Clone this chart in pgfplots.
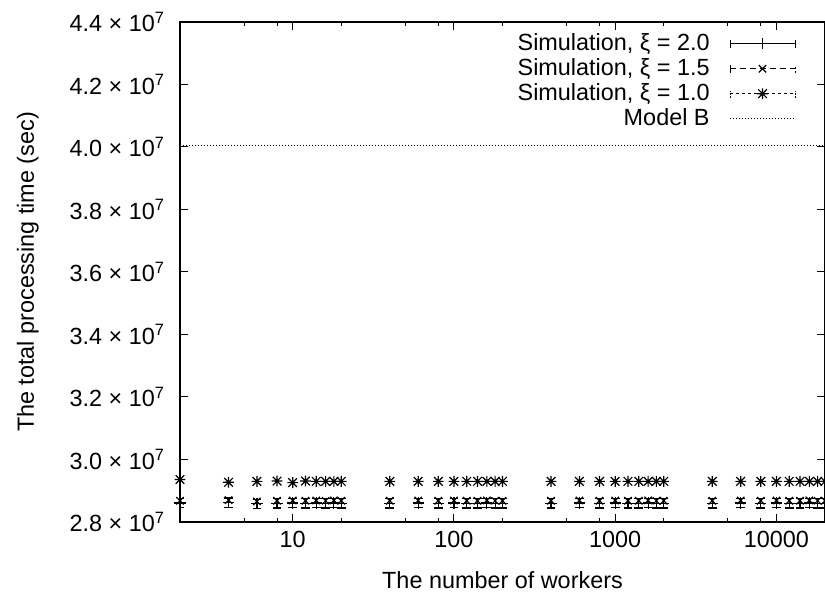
\documentclass[border=0pt]{standalone}
\usepackage{fontspec}
\setmainfont{Liberation Sans}
\usepackage{pgfplots}
\usepackage{pgfplotstable}
\pgfplotsset{compat=1.18}

% gnuplot-style star: a plus and a cross on top of each other
\pgfdeclareplotmark{gstar}{%
  \pgfpathmoveto{\pgfqpoint{-\pgfplotmarksize}{0pt}}%
  \pgfpathlineto{\pgfqpoint{\pgfplotmarksize}{0pt}}%
  \pgfpathmoveto{\pgfqpoint{0pt}{-\pgfplotmarksize}}%
  \pgfpathlineto{\pgfqpoint{0pt}{\pgfplotmarksize}}%
  \pgfpathmoveto{\pgfqpoint{-0.8\pgfplotmarksize}{-0.8\pgfplotmarksize}}%
  \pgfpathlineto{\pgfqpoint{0.8\pgfplotmarksize}{0.8\pgfplotmarksize}}%
  \pgfpathmoveto{\pgfqpoint{-0.8\pgfplotmarksize}{0.8\pgfplotmarksize}}%
  \pgfpathlineto{\pgfqpoint{0.8\pgfplotmarksize}{-0.8\pgfplotmarksize}}%
  \pgfusepathqstroke}

% x = workers, y = total processing time
\pgfplotstableread{
x      y        e
2      2.861e7  0.015e7
4      2.862e7  0.015e7
6      2.858e7  0.015e7
8      2.860e7  0.015e7
10     2.861e7  0.015e7
12     2.860e7  0.015e7
14     2.861e7  0.015e7
16     2.860e7  0.015e7
18     2.861e7  0.015e7
20     2.860e7  0.015e7
40     2.860e7  0.015e7
60     2.861e7  0.015e7
80     2.860e7  0.015e7
100    2.861e7  0.015e7
120    2.860e7  0.015e7
140    2.860e7  0.015e7
160    2.861e7  0.015e7
180    2.860e7  0.015e7
200    2.860e7  0.015e7
400    2.860e7  0.015e7
600    2.861e7  0.015e7
800    2.860e7  0.015e7
1000   2.861e7  0.015e7
1200   2.860e7  0.015e7
1400   2.860e7  0.015e7
1600   2.861e7  0.015e7
1800   2.860e7  0.015e7
2000   2.860e7  0.015e7
4000   2.860e7  0.015e7
6000   2.861e7  0.015e7
8000   2.860e7  0.015e7
10000  2.861e7  0.015e7
12000  2.860e7  0.015e7
14000  2.860e7  0.015e7
16000  2.861e7  0.015e7
18000  2.860e7  0.015e7
20000  2.860e7  0.015e7
}\simtwo

\pgfplotstableread{
x      y
2      2.868e7
4      2.870e7
6      2.866e7
8      2.868e7
10     2.869e7
12     2.868e7
14     2.869e7
16     2.868e7
18     2.869e7
20     2.868e7
40     2.868e7
60     2.869e7
80     2.868e7
100    2.869e7
120    2.868e7
140    2.868e7
160    2.869e7
180    2.868e7
200    2.868e7
400    2.868e7
600    2.869e7
800    2.868e7
1000   2.869e7
1200   2.868e7
1400   2.868e7
1600   2.869e7
1800   2.868e7
2000   2.868e7
4000   2.868e7
6000   2.869e7
8000   2.868e7
10000  2.869e7
12000  2.868e7
14000  2.868e7
16000  2.869e7
18000  2.868e7
20000  2.868e7
}\simonefive

\pgfplotstableread{
x      y
2      2.936e7
4      2.927e7
6      2.930e7
8      2.931e7
10     2.926e7
12     2.931e7
14     2.930e7
16     2.930e7
18     2.930e7
20     2.930e7
40     2.930e7
60     2.930e7
80     2.930e7
100    2.930e7
120    2.930e7
140    2.930e7
160    2.930e7
180    2.930e7
200    2.930e7
400    2.930e7
600    2.930e7
800    2.930e7
1000   2.930e7
1200   2.930e7
1400   2.930e7
1600   2.930e7
1800   2.930e7
2000   2.930e7
4000   2.930e7
6000   2.930e7
8000   2.930e7
10000  2.930e7
12000  2.930e7
14000  2.930e7
16000  2.930e7
18000  2.930e7
20000  2.930e7
}\simone

\newcommand\fs{\fontsize{11.7bp}{13bp}\selectfont}

\begin{document}
\begin{tikzpicture}
\useasboundingbox (-90bp,-37.5bp) rectangle (322.5bp,261bp);
\begin{axis}[
    scale only axis,
    width=322.5bp, height=250bp,
    xmode=log,
    xmin=2, xmax=20000,
    ymin=2.8e7, ymax=4.4e7,
    scaled y ticks=false,
    font=\fs,
    axis line style={line width=0.7bp},
    tick style={line width=0.5bp, black},
    tick align=inside,
    major tick length=4bp,
    minor tick length=2bp,
    xtick={10,100,1000,10000},
    xticklabels={10,100,1000,10000},
    minor xtick={5,8,20,50,80,200,500,800,2000,5000,8000},
    ytick={2.8e7,3.0e7,3.2e7,3.4e7,3.6e7,3.8e7,4.0e7,4.2e7,4.4e7},
    yticklabels={2.8 × 10\textsuperscript{7},3.0 × 10\textsuperscript{7},3.2 × 10\textsuperscript{7},3.4 × 10\textsuperscript{7},3.6 × 10\textsuperscript{7},3.8 × 10\textsuperscript{7},4.0 × 10\textsuperscript{7},4.2 × 10\textsuperscript{7},4.4 × 10\textsuperscript{7}},
    minor ytick={},
    yticklabel style={xshift=-4bp},
    xticklabel style={yshift=-1bp},
    xlabel={The number of workers},
    ylabel={The total processing time (sec)},
    xlabel style={at={(axis description cs:0.5,-0.116)}, anchor=center},
    ylabel style={at={(axis description cs:-0.236,0.5)}, anchor=center},
    legend plot pos=right,
    legend cell align=right,
    legend style={draw=none, fill=none, font=\fs,
        at={(axis description cs:0.955,0.985)}, anchor=north east,
        row sep=-1.5bp, inner sep=0pt, column sep=8bp},
]

\addplot[black, only marks, mark=+, mark size=2.8bp, mark options={line width=0.6bp},
    legend image code/.code={
        \draw[black, line width=0.5bp] (0bp,0bp) -- (32.5bp,0bp)
            (0bp,-2bp) -- (0bp,2bp) (32.5bp,-2bp) -- (32.5bp,2bp);
        \draw[black, line width=0.5bp] plot[mark=+, mark size=2.8bp] coordinates {(16.25bp,0bp)};},
    error bars/.cd, y dir=both, y explicit,
    error bar style={line width=0.6bp, black},
    error mark options={rotate=90, mark size=2.2bp, line width=0.6bp, black}]
    table[x=x, y=y, y error=e] {\simtwo};
\addlegendentry{Simulation, ξ = 2.0}

\addplot[black, only marks, mark=x, mark size=2.6bp, mark options={line width=0.6bp},
    legend image code/.code={
        \draw[black, line width=0.5bp, dash pattern=on 3bp off 2bp] (0bp,0bp) -- (32.5bp,0bp);
        \draw[black, line width=0.5bp] (0bp,-2bp) -- (0bp,2bp);
        \draw[black, line width=0.5bp, dash pattern=on 1bp off 1bp] (32.5bp,-2bp) -- (32.5bp,2bp);
        \draw[black, line width=0.5bp] plot[mark=x, mark size=2.6bp] coordinates {(16.25bp,0bp)};}]
    table[x=x, y=y] {\simonefive};
\addlegendentry{Simulation, ξ = 1.5}

\addplot[black, only marks, mark=gstar, mark size=2.7bp, mark options={line width=0.6bp},
    legend image code/.code={
        \draw[black, line width=0.5bp, dash pattern=on 1.5bp off 1.5bp] (0bp,0bp) -- (32.5bp,0bp);
        \draw[black, line width=0.5bp, dash pattern=on 0.7bp off 0.7bp] (0bp,-2bp) -- (0bp,2bp) (32.5bp,-2bp) -- (32.5bp,2bp);
        \draw[black, line width=0.6bp] plot[mark=gstar, mark size=2.7bp] coordinates {(16.25bp,0bp)};}]
    table[x=x, y=y] {\simone};
\addlegendentry{Simulation, ξ = 1.0}

\addplot[black, no marks, line width=0.4bp, dash pattern=on 0.5bp off 1bp,
    legend image code/.code={
        \draw[black, line width=0.4bp, dash pattern=on 0.5bp off 1bp] (0bp,0bp) -- (32.5bp,0bp);}]
    coordinates {(2,4.005e7) (20000,4.005e7)};
\addlegendentry{Model B}

\end{axis}
\end{tikzpicture}
\end{document}
